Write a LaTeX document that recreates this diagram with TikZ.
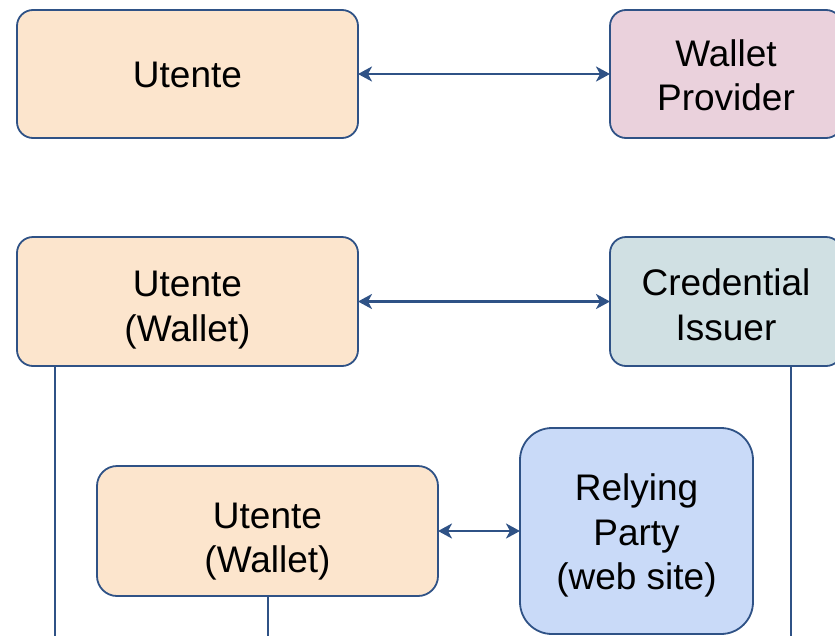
\documentclass[tikz,border=0pt]{standalone}
\usepackage{fontspec}
\setmainfont{Liberation Sans}
\usetikzlibrary{arrows.meta}

\definecolor{edge}{HTML}{2F5286}
\definecolor{peach}{HTML}{FCE5CD}
\definecolor{rose}{HTML}{EAD1DC}
\definecolor{slate}{HTML}{D0E0E3}
\definecolor{sky}{HTML}{C9DAF8}

% centred lines of text, first baseline raised by #1 above the node centre
\newcommand\boxtext[2]{\raisebox{#1}[0pt][0pt]{\begin{tabular}[t]{@{}c@{}}#2\end{tabular}}}

\tikzset{
  box/.style={draw=edge, line width=1.8pt, rounded corners=16pt, anchor=north west,
    inner sep=0pt, outer sep=0pt,
    font=\fontsize{37}{44.5}\selectfont, text=black},
  link/.style={draw=edge, line width=2.4pt,
    {Stealth[length=14pt,width=15pt,inset=4pt]}-{Stealth[length=14pt,width=15pt,inset=4pt]}},
  lifeline/.style={draw=edge, line width=2.4pt}
}

\begin{document}
\begin{tikzpicture}[x=1pt, y=-1pt]
  \useasboundingbox (0,0) rectangle (835,635);
  \clip (0,0) rectangle (835,635);

  % top row: user and wallet provider
  \node[box, fill=peach, minimum width=341pt, minimum height=128pt] (u1) at (17,10)
    {\boxtext{-13.7pt}{Utente}};
  \node[box, fill=rose, minimum width=232pt, minimum height=128pt] (wp) at (610,10)
    {\boxtext{8pt}{Wallet\\Provider}};
  \draw[link] (u1.east) -- (wp.west);

  % middle row: wallet and credential issuer
  \node[box, fill=peach, minimum width=341pt, minimum height=129pt] (u2) at (17,237)
    {\boxtext{4.8pt}{Utente\\(Wallet)}};
  \node[box, fill=slate, minimum width=232pt, minimum height=129pt] (ci) at (610,237)
    {\boxtext{5.8pt}{Credential\\Issuer}};
  \draw[link] (u2.east) -- (ci.west);

  % lower row: wallet and relying party
  \node[box, fill=peach, rounded corners=20pt, minimum width=341pt, minimum height=130pt] (u3) at (97,466)
    {\boxtext{3pt}{Utente\\(Wallet)}};
  \node[box, fill=sky, rounded corners=32pt, minimum width=233pt, minimum height=206pt] (rp) at (520,428)
    {\boxtext{30.3pt}{Relying\\Party\\(web site)}};
  \draw[link] (u3.east) -- (rp.west);

  % lifelines running down off the page
  \coordinate (l1) at (55,640);
  \coordinate (l2) at (791,640);
  \coordinate (l3) at (268,640);
  \draw[lifeline] (u2.south -| l1) -- (l1);
  \draw[lifeline] (ci.south -| l2) -- (l2);
  \draw[lifeline] (u3.south -| l3) -- (l3);
\end{tikzpicture}
\end{document}
